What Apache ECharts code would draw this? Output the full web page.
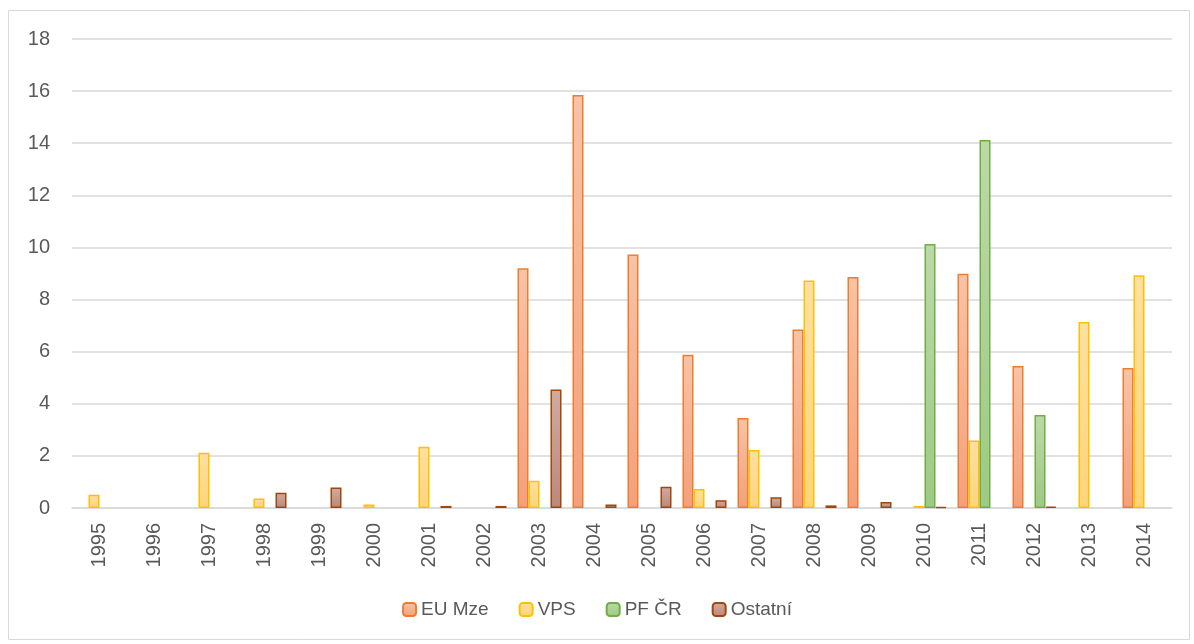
<!DOCTYPE html>
<html>
<head>
<meta charset="utf-8">
<script src="https://cdn.jsdelivr.net/npm/echarts@6/dist/echarts.min.js"></script>
<style>
  html, body { margin: 0; padding: 0; background: #fff; }
  #chart { width: 1194px; height: 644px; }
</style>
</head>
<body>
<div id="chart"></div>
<script>
const years = ["1995", "1996", "1997", "1998", "1999", "2000", "2001", "2002", "2003", "2004",
  "2005", "2006", "2007", "2008", "2009", "2010", "2011", "2012", "2013", "2014"];
const euMze = [0, 0, 0, 0, 0, 0, 0, 0, 9.2, 15.85, 9.73, 5.88, 3.45, 6.85, 8.87, 0, 8.99, 5.45, 0, 5.37];
const vps = [0.51, 0, 2.12, 0.36, 0, 0.13, 2.35, 0, 1.05, 0, 0, 0.73, 2.23, 8.73, 0, 0.08, 2.59, 0, 7.14, 8.93];
const pfCr = [0, 0, 0, 0, 0, 0, 0, 0, 0, 0, 0, 0, 0, 0, 0, 10.13, 14.12, 3.57, 0, 0];
const ostatni = [0, 0, 0, 0.59, 0.79, 0, 0.08, 0.08, 4.55, 0.13, 0.82, 0.3, 0.41, 0.1, 0.23, 0.03, 0, 0.05, 0, 0];

const fontFam = "'Liberation Sans', 'Noto Sans', sans-serif";
const textColor = "#595959";

function grad(top, bottom) {
  return new echarts.graphic.LinearGradient(0, 0, 0, 1, [
    { offset: 0, color: top },
    { offset: 1, color: bottom },
  ]);
}

function barSeries(name, data, border, top, bottom) {
  return {
    name: name,
    type: "bar",
    // zero values are not drawn at all in the original
    data: data.map((v) => (v === 0 ? "-" : v)),
    barGap: "0%",
    barCategoryGap: "20%",
    itemStyle: {
      color: grad(top, bottom),
      borderColor: border,
      borderWidth: 1.5,
    },
  };
}

const myChart = echarts.init(document.getElementById("chart"));
myChart.setOption({
  animation: false,
  textStyle: { fontFamily: fontFam },
  graphic: [
    {
      type: "rect",
      shape: { x: 8.5, y: 10.5, width: 1181, height: 629 },
      style: { fill: "none", stroke: "#D9D9D9", lineWidth: 1 },
      silent: true,
    },
  ],
  grid: { left: 72, right: 22, top: 39, bottom: 136 },
  legend: {
    bottom: 20,
    left: "center",
    itemWidth: 13,
    itemHeight: 13,
    itemGap: 30,
    textStyle: { fontSize: 19, color: textColor, fontFamily: fontFam },
    data: ["EU Mze", "VPS", "PF ČR", "Ostatní"],
  },
  xAxis: {
    type: "category",
    data: years,
    axisLine: { lineStyle: { color: "#D9D9D9", width: 1.5 } },
    axisTick: { show: false },
    axisLabel: {
      rotate: 90,
      interval: 0,
      fontSize: 20,
      color: textColor,
      margin: 15,
    },
  },
  yAxis: {
    type: "value",
    min: 0,
    max: 18,
    interval: 2,
    axisLine: { show: false },
    axisTick: { show: false },
    splitLine: { lineStyle: { color: "#D9D9D9", width: 1.5 } },
    axisLabel: { fontSize: 20, color: textColor, margin: 22 },
  },
  series: [
    barSeries("EU Mze", euMze, "#ED7D31", "#F8C3A6", "#F4A07A"),
    barSeries("VPS", vps, "#FFC000", "#FFE0A0", "#FFD47A"),
    barSeries("PF ČR", pfCr, "#70AD47", "#BCD9A8", "#9DCA84"),
    barSeries("Ostatní", ostatni, "#9E480E", "#D2AAA0", "#BD8878"),
  ],
});
</script>
</body>
</html>
